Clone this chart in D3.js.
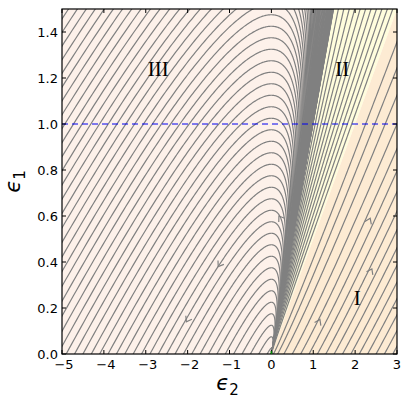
<!DOCTYPE html>
<html><head><meta charset="utf-8">
<script src="https://cdn.jsdelivr.net/npm/d3@7"></script>
<style>body{margin:0;background:#fff}</style></head>
<body><svg id="c" width="409" height="406"></svg>
<script>
// ---- data ----
const xTicks = [-5,-4,-3,-2,-1,0,1,2,3];
const yTicks = [0.0,0.2,0.4,0.6,0.8,1.0,1.2,1.4];
// flow model: fast eigen-direction (eps2,eps1), slow eigen-direction, exponent ratio
const fastDir = [2.0, 1.0];
const slowDir = [1.0, 1.0];
const slowRatio = 0.5;
// seed crossings of the flow lines
const seedsIII = [-0.1,-0.3,-0.5,-0.7,-0.9,-1.1,-1.3,-1.5,-1.7,-1.9,-2.1,-2.3,-2.5,-2.7,-2.9,-3.1,-3.3,-3.5,-3.7,-3.9,-4.1,-4.3,-4.5,-4.7,-4.9,-5.1,-5.3,-5.5,-5.7,-5.9,-6.1,-6.3,-6.5,-6.7,-6.9,-7.1,-7.3,-7.5,-7.7,-7.9,-8.1,-8.3,-8.5,-8.7,-8.9,-9.1,-9.3,-9.5,-9.7,-9.9]; // on eps1 = 0
const seedsBand = [-10.2,-10.6,-11,-11.5,-12,-12.5,-13,-13.5,-14,-15,-16,-17,-18,-19,-20,-22,-24,-26,-28,-30,-33,-36,-40,-45,-50,-56,-63,-70,-80,-90,-100,-120,-150]; // on eps1 = 0, far left
const seedsI = [0.05,0.15,0.3,0.5,0.7,0.9,1.1,1.3,1.5,1.7,1.9,2.1,2.3,2.5,2.7,2.9]; // on eps1 = 0
const seedsII = [1.6,1.73,1.86,1.99,2.12,2.25,2.38,2.51,2.64,2.77,2.9]; // on eps1 = 1.5
const arrowPts = [[-2.03,0.14],[-1.27,0.38],[0.18,0.60],[1.16,0.15],[2.40,0.37],[2.36,0.59]];
const regionLabels = [{t:"III",x:-2.7,y:1.23},{t:"II",x:1.69,y:1.23},{t:"I",x:2.05,y:0.235}];
const dashedLevel = 1.0;

// ---- layout ----
const svg = d3.select("#c");
const L=62, R=397, T=9, B=354;
const x = d3.scaleLinear().domain([-5,3]).range([L,R]);
const y = d3.scaleLinear().domain([0,1.5]).range([B,T]);

svg.append("defs").append("clipPath").attr("id","pc")
  .append("rect").attr("x",L).attr("y",T).attr("width",R-L).attr("height",B-T);
const g = svg.append("g").attr("clip-path","url(#pc)");

// region fills
const poly = pts => pts.map(p=>[x(p[0]),y(p[1])].join(",")).join(" ");
g.append("polygon").attr("points",poly([[-5,0],[0,0],[1.5,1.5],[-5,1.5]])).attr("fill","#fdf1ea");
g.append("polygon").attr("points",poly([[0,0],[3,1.5],[1.5,1.5]])).attr("fill","#fffddd");
g.append("polygon").attr("points",poly([[0,0],[3,0],[3,1.5]])).attr("fill","#fdebd3");

function coeffs(x0,y0){
  const det = fastDir[0]*slowDir[1]-slowDir[0]*fastDir[1];
  const A = (x0*slowDir[1]-slowDir[0]*y0)/det;
  const Bc = (fastDir[0]*y0-fastDir[1]*x0)/det;
  return [A,Bc];
}
function traj(x0,y0){
  const [A,Bc]=coeffs(x0,y0);
  const pts=[];
  for(let s=-18;s<=6;s+=0.01){
    const u=Math.exp(s), um=Math.exp(slowRatio*s);
    const e2=A*u*fastDir[0]+Bc*um*slowDir[0];
    const e1=A*u*fastDir[1]+Bc*um*slowDir[1];
    if(Math.abs(e2)>30||Math.abs(e1)>20) { if(pts.length) break; else continue; }
    if(e1>1.7 && pts.length && pts[pts.length-1][1]>1.7) continue;
    pts.push([e2,e1]);
  }
  return pts;
}
const line = d3.line().x(d=>x(d[0])).y(d=>y(d[1]));
const allSeeds = seedsIII.map(c=>[c,0]).concat(seedsBand.map(c=>[c,0]))
  .concat(seedsI.map(c=>[c,0])).concat(seedsII.map(c=>[c,1.5]));
g.append("g").selectAll("path").data(allSeeds).join("path")
  .attr("d",d=>line(traj(d[0],d[1])))
  .attr("fill","none").attr("stroke","#808080").attr("stroke-width",1.2);

// arrows
arrowPts.forEach(p=>{
  const [A,Bc]=coeffs(p[0],p[1]);
  const v2=A*fastDir[0]+slowRatio*Bc*slowDir[0];
  const v1=A*fastDir[1]+slowRatio*Bc*slowDir[1];
  const dx=x(p[0]+v2*0.01)-x(p[0]), dy=y(p[1]+v1*0.01)-y(p[1]);
  const ang=Math.atan2(dy,dx)*180/Math.PI;
  g.append("path").attr("d","M-5,-3.5 L0,0 L-5,3.5")
   .attr("transform",`translate(${x(p[0])},${y(p[1])}) rotate(${ang})`)
   .attr("fill","none").attr("stroke","#808080").attr("stroke-width",1.2);
});

// dashed line
g.append("line").attr("x1",L).attr("x2",R).attr("y1",y(dashedLevel)).attr("y2",y(dashedLevel))
 .attr("stroke","#0000ee").attr("stroke-width",1).attr("stroke-dasharray","6,4");

// region labels
regionLabels.forEach(r=>{
  svg.append("text").attr("x",x(r.x)).attr("y",y(r.y)).attr("text-anchor","middle")
   .attr("dominant-baseline","middle").attr("font-family","Liberation Serif, serif").attr("font-size",21).text(r.t);
});

// frame and ticks
svg.append("rect").attr("x",L).attr("y",T).attr("width",R-L).attr("height",B-T)
 .attr("fill","none").attr("stroke","#000").attr("stroke-width",1.2);
const ax = svg.append("g").attr("font-family","DejaVu Sans, sans-serif").attr("font-size",13);
xTicks.forEach(t=>{
  ax.append("line").attr("x1",x(t)).attr("x2",x(t)).attr("y1",B).attr("y2",B-4).attr("stroke","#000");
  ax.append("line").attr("x1",x(t)).attr("x2",x(t)).attr("y1",T).attr("y2",T+4).attr("stroke","#000");
  ax.append("text").attr("x",x(t)+(t<0?2:0)).attr("y",B+15).attr("text-anchor","middle").text(t<0?"\u2212"+Math.abs(t):String(t));
});
yTicks.forEach(t=>{
  ax.append("line").attr("x1",L).attr("x2",L+4).attr("y1",y(t)).attr("y2",y(t)).attr("stroke","#000");
  ax.append("line").attr("x1",R).attr("x2",R-4).attr("y1",y(t)).attr("y2",y(t)).attr("stroke","#000");
  ax.append("text").attr("x",L-4).attr("y",y(t)+4.5).attr("text-anchor","end").text(t.toFixed(1));
});
// axis labels
const xl = svg.append("text").attr("x",(L+R)/2-2).attr("y",390).attr("text-anchor","middle")
  .attr("font-family","DejaVu Sans, sans-serif").attr("font-size",21);
xl.append("tspan").attr("font-style","italic").text("\u03f5");
xl.append("tspan").attr("font-size",15).attr("dy",5).text("2");
const yl = svg.append("text").attr("transform",`translate(20,${(T+B)/2}) rotate(-90)`).attr("text-anchor","middle")
  .attr("font-family","DejaVu Sans, sans-serif").attr("font-size",21);
yl.append("tspan").attr("font-style","italic").text("\u03f5");
yl.append("tspan").attr("font-size",15).attr("dy",5).text("1");
// origin marker
svg.append("line").attr("x1",x(0)).attr("x2",x(0)).attr("y1",B).attr("y2",B-3).attr("stroke","#008000").attr("stroke-width",1.5);
</script></body></html>
